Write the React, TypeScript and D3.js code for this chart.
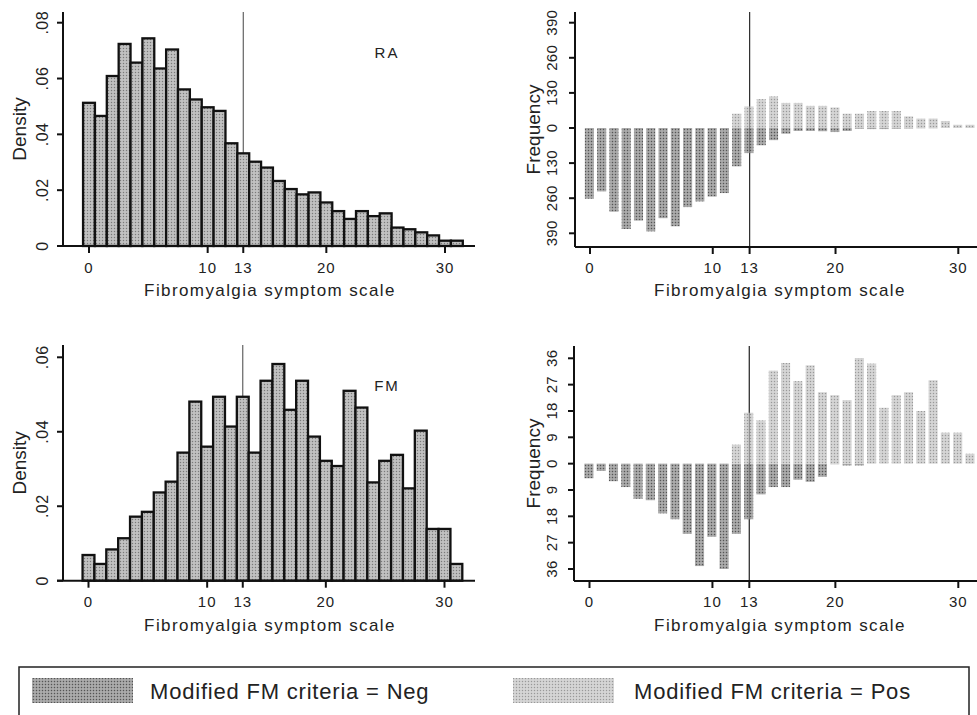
import React from "react";
import * as d3 from "d3";

// ---------- data ----------
const scores = [0, 1, 2, 3, 4, 5, 6, 7, 8, 9, 10, 11, 12, 13, 14, 15, 16, 17, 18, 19, 20, 21, 22, 23, 24, 25, 26, 27, 28, 29, 30, 31];

const raDensity = [0.0513, 0.0466, 0.0609, 0.0724, 0.0657, 0.0744, 0.0636, 0.0704, 0.0561, 0.0525, 0.0497, 0.0484, 0.0368, 0.0332, 0.0302, 0.0281, 0.0233, 0.0204, 0.0185, 0.0192, 0.0156, 0.0125, 0.0097, 0.0125, 0.0107, 0.0117, 0.0066, 0.006, 0.0049, 0.0038, 0.0019, 0.0019];
const fmDensity = [0.0069, 0.0045, 0.0084, 0.0114, 0.0172, 0.0185, 0.0237, 0.0266, 0.0344, 0.0481, 0.036, 0.0494, 0.0414, 0.0494, 0.0344, 0.0537, 0.0582, 0.0459, 0.0537, 0.0387, 0.0322, 0.0308, 0.051, 0.0465, 0.0264, 0.0322, 0.0338, 0.0248, 0.0403, 0.0139, 0.0139, 0.0045];

const raNeg = [262, 235, 310, 374, 343, 383, 334, 364, 293, 272, 254, 241, 142, 93, 64, 45, 21, 11, 11, 12, 15, 11, 3, 4, 4, 3, 2, 1, 1, 0, 0, 0];
const raPos = [0, 0, 0, 0, 0, 0, 0, 0, 0, 0, 0, 0, 53, 80, 107, 117, 93, 93, 82, 82, 76, 53, 53, 63, 63, 63, 43, 35, 35, 26, 12, 12];

const fmNeg = [5, 2.5, 6, 8, 12, 12.5, 17, 19, 24, 35, 25, 36, 24, 19, 10.5, 8, 8, 5.5, 6.2, 4.5, 0.2, 0.6, 0.6, 0, 0, 0, 0, 0, 0, 0, 0, 0];
const fmPos = [0, 0, 0, 0, 0, 0, 0, 0, 0, 0, 0, 0, 6.5, 17.4, 14.8, 31.8, 34.4, 28.2, 33.6, 24.4, 23.4, 21.7, 36.1, 34.2, 19.1, 23.4, 24.4, 18, 28.5, 10.6, 10.6, 3.4];

const xTicks = [0, 10, 13, 20, 30];
const cutoff = 13;
const raDensityTicks = [0, 0.02, 0.04, 0.06, 0.08];
const raDensityLabels = ["0", ".02", ".04", ".06", ".08"];
const fmDensityTicks = [0, 0.02, 0.04, 0.06];
const fmDensityLabels = ["0", ".02", ".04", ".06"];
const raFreqTicks = [-390, -260, -130, 0, 130, 260, 390];
const fmFreqTicks = [-36, -27, -18, -9, 0, 9, 18, 27, 36];
const panelLabels = ["RA", "FM"];
const legendLabels = ["Modified FM criteria = Neg", "Modified FM criteria = Pos"];
const xTitle = "Fibromyalgia symptom scale";

const FONT = "'Liberation Sans', Arial, Helvetica, sans-serif";
const INK = "#222";

type Geo = {
  axisX: number;
  yTop: number;
  yBase: number;
  xLineStart: number;
  xLineEnd: number;
  xRange: [number, number];
  yRange: [number, number];
  tickLabelX: number;
  titleX: number;
  tickLabelY: number;
  axisTitleY: number;
  yTitleX: number;
};

function DensityPanel({ density, yTicks, yLabels, yMax, geo, label }: { density: number[]; yTicks: number[]; yLabels: string[]; yMax: number; geo: Geo; label: string }) {
  const x = d3.scaleLinear().domain([0, 30]).range(geo.xRange);
  const y = d3.scaleLinear().domain([0, yMax]).range(geo.yRange);
  const yMid = (geo.yTop + geo.yBase) / 2;
  return (
    <g>
      <line x1={x(cutoff)} x2={x(cutoff)} y1={geo.yTop} y2={geo.yBase} stroke="#555" strokeWidth={1.1} />
      {scores.map((s, i) => (
        <rect key={s} x={x(s - 0.5)} y={y(density[i])} width={x(s + 0.5) - x(s - 0.5)} height={y(0) - y(density[i])} fill="url(#patL)" stroke="#111" strokeWidth={2.3} />
      ))}
      <line x1={geo.axisX} x2={geo.axisX} y1={geo.yTop} y2={geo.yBase} stroke="#111" strokeWidth={2} />
      <line x1={geo.xLineStart} x2={geo.xLineEnd} y1={geo.yBase} y2={geo.yBase} stroke="#111" strokeWidth={2} />
      {yTicks.map((t, i) => (
        <g key={t}>
          <line x1={geo.axisX - 6} x2={geo.axisX} y1={y(t)} y2={y(t)} stroke="#111" strokeWidth={2} />
          <text transform={`translate(${geo.tickLabelX},${y(t)}) rotate(-90)`} textAnchor="middle" dominantBaseline="central" fontSize={16} fontFamily={FONT} fill={INK} letterSpacing={0.5}>
            {yLabels[i]}
          </text>
        </g>
      ))}
      {xTicks.map((t) => (
        <g key={t}>
          <line x1={x(t)} x2={x(t)} y1={geo.yBase} y2={geo.yBase + 7} stroke="#111" strokeWidth={2} />
          <text x={x(t)} y={geo.tickLabelY} textAnchor="middle" dominantBaseline="central" fontSize={15} fontFamily={FONT} fill={INK} letterSpacing={1}>
            {t}
          </text>
        </g>
      ))}
      <text x={geo.titleX} y={geo.axisTitleY} textAnchor="middle" dominantBaseline="central" fontSize={17} fontFamily={FONT} fill={INK} letterSpacing={1.4}>
        {xTitle}
      </text>
      <text transform={`translate(${geo.yTitleX},${yMid}) rotate(-90)`} textAnchor="middle" dominantBaseline="central" fontSize={19} fontFamily={FONT} fill={INK}>
        Density
      </text>
      <text x={387} y={geo.yTop + 40} textAnchor="middle" dominantBaseline="central" fontSize={15} fontFamily={FONT} fill={INK} letterSpacing={2}>
        {label}
      </text>
    </g>
  );
}

function FreqPanel({ neg, pos, ticks, geo }: { neg: number[]; pos: number[]; ticks: number[]; geo: Geo }) {
  const x = d3.scaleLinear().domain([0, 30]).range(geo.xRange);
  const m = ticks[ticks.length - 1];
  const y = d3.scaleLinear().domain([-m, m]).range(geo.yRange);
  const yMid = (geo.yTop + geo.yBase) / 2;
  const bw = 0.74;
  return (
    <g>
      <line x1={x(cutoff)} x2={x(cutoff)} y1={geo.yTop} y2={geo.yBase} stroke="#333" strokeWidth={1.2} />
      {scores.map((s, i) =>
        neg[i] > 0 ? (
          <rect key={"n" + s} x={x(s - 0.05 - bw / 2)} y={y(0)} width={x(bw) - x(0)} height={y(-neg[i]) - y(0)} fill="url(#patNeg)" />
        ) : null
      )}
      {scores.map((s, i) =>
        pos[i] > 0 ? (
          <rect key={"p" + s} x={x(s - 0.05 - bw / 2)} y={y(pos[i])} width={x(bw) - x(0)} height={y(0) - y(pos[i])} fill="url(#patPos)" />
        ) : null
      )}
      <line x1={x(cutoff)} x2={x(cutoff)} y1={geo.yTop} y2={geo.yBase} stroke="#333" strokeWidth={1} strokeOpacity={0.5} />
      <line x1={geo.axisX} x2={geo.axisX} y1={geo.yTop} y2={geo.yBase} stroke="#111" strokeWidth={2} />
      <line x1={geo.xLineStart} x2={geo.xLineEnd} y1={geo.yBase} y2={geo.yBase} stroke="#111" strokeWidth={2} />
      {ticks.map((t) => (
        <g key={t}>
          <line x1={geo.axisX - 6} x2={geo.axisX} y1={y(t)} y2={y(t)} stroke="#111" strokeWidth={2} />
          <text transform={`translate(${geo.tickLabelX},${y(t)}) rotate(-90)`} textAnchor="middle" dominantBaseline="central" fontSize={15} fontFamily={FONT} fill={INK} letterSpacing={0.3}>
            {Math.abs(t)}
          </text>
        </g>
      ))}
      {xTicks.map((t) => (
        <g key={t}>
          <line x1={x(t)} x2={x(t)} y1={geo.yBase} y2={geo.yBase + 7} stroke="#111" strokeWidth={2} />
          <text x={x(t)} y={geo.tickLabelY} textAnchor="middle" dominantBaseline="central" fontSize={15} fontFamily={FONT} fill={INK} letterSpacing={1}>
            {t}
          </text>
        </g>
      ))}
      <text x={geo.titleX} y={geo.axisTitleY} textAnchor="middle" dominantBaseline="central" fontSize={17} fontFamily={FONT} fill={INK} letterSpacing={1.4}>
        {xTitle}
      </text>
      <text transform={`translate(${geo.yTitleX},${yMid}) rotate(-90)`} textAnchor="middle" dominantBaseline="central" fontSize={19} fontFamily={FONT} fill={INK}>
        Frequency
      </text>
    </g>
  );
}

export default function App() {
  const W = 977;
  const H = 715;
  const geoTL: Geo = { axisX: 63, yTop: 12, yBase: 246, xLineStart: 57, xLineEnd: 475, xRange: [89, 445], yRange: [246, 22.7], tickLabelX: 42, titleX: 270, tickLabelY: 267, axisTitleY: 290, yTitleX: 19 };
  const geoBL: Geo = { axisX: 63, yTop: 345, yBase: 580.7, xLineStart: 57, xLineEnd: 475, xRange: [88.5, 444.5], yRange: [580.7, 357.3], tickLabelX: 42, titleX: 270, tickLabelY: 601.7, axisTitleY: 625, yTitleX: 19 };
  const geoTR: Geo = { axisX: 575, yTop: 12, yBase: 247, xLineStart: 575, xLineEnd: 977, xRange: [590, 958.3], yRange: [233.3, 22.7], tickLabelX: 551, titleX: 780, tickLabelY: 267, axisTitleY: 290, yTitleX: 533 };
  const geoBR: Geo = { axisX: 574, yTop: 346, yBase: 581, xLineStart: 574, xLineEnd: 977, xRange: [589.5, 958.3], yRange: [569, 358.3], tickLabelX: 551, titleX: 780, tickLabelY: 601.7, axisTitleY: 625, yTitleX: 533 };

  return (
    <svg width={W} height={H} viewBox={`0 0 ${W} ${H}`} style={{ position: "absolute", left: 0, top: 0, background: "#fff" }}>
      <defs>
        <pattern id="patL" width="3" height="3" patternUnits="userSpaceOnUse">
          <rect width="3" height="3" fill="#b8b8b8" />
          <rect x="0" y="0" width="1" height="1" fill="#7a7a7a" />
          <rect x="1.5" y="1.5" width="1" height="1" fill="#dcdcdc" />
        </pattern>
        <pattern id="patNeg" width="3" height="3" patternUnits="userSpaceOnUse">
          <rect width="3" height="3" fill="#9c9c9c" />
          <rect x="0" y="0" width="1" height="1" fill="#555" />
          <rect x="1.5" y="1.5" width="1" height="1" fill="#d8d8d8" />
        </pattern>
        <pattern id="patPos" width="3" height="3" patternUnits="userSpaceOnUse">
          <rect width="3" height="3" fill="#cdcdcd" />
          <rect x="0" y="0" width="1" height="1" fill="#999" />
          <rect x="1.5" y="1.5" width="1" height="1" fill="#f0f0f0" />
        </pattern>
      </defs>
      <rect width={W} height={H} fill="#fff" />

      <DensityPanel density={raDensity} yTicks={raDensityTicks} yLabels={raDensityLabels} yMax={0.08} geo={geoTL} label={panelLabels[0]} />
      <DensityPanel density={fmDensity} yTicks={fmDensityTicks} yLabels={fmDensityLabels} yMax={0.06} geo={geoBL} label={panelLabels[1]} />
      <FreqPanel neg={raNeg} pos={raPos} ticks={raFreqTicks} geo={geoTR} />
      <FreqPanel neg={fmNeg} pos={fmPos} ticks={fmFreqTicks} geo={geoBR} />

      <rect x={19} y={667} width={950} height={70} fill="none" stroke="#222" strokeWidth={1.5} />
      <rect x={32} y={678} width={101} height={25} fill="url(#patNeg)" />
      <text x={150} y={691} dominantBaseline="central" fontSize={22} fontFamily={FONT} fill={INK} letterSpacing={0.8}>
        {legendLabels[0]}
      </text>
      <rect x={513} y={678} width={101} height={25} fill="url(#patPos)" />
      <text x={634} y={691} dominantBaseline="central" fontSize={22} fontFamily={FONT} fill={INK} letterSpacing={0.8}>
        {legendLabels[1]}
      </text>
    </svg>
  );
}
